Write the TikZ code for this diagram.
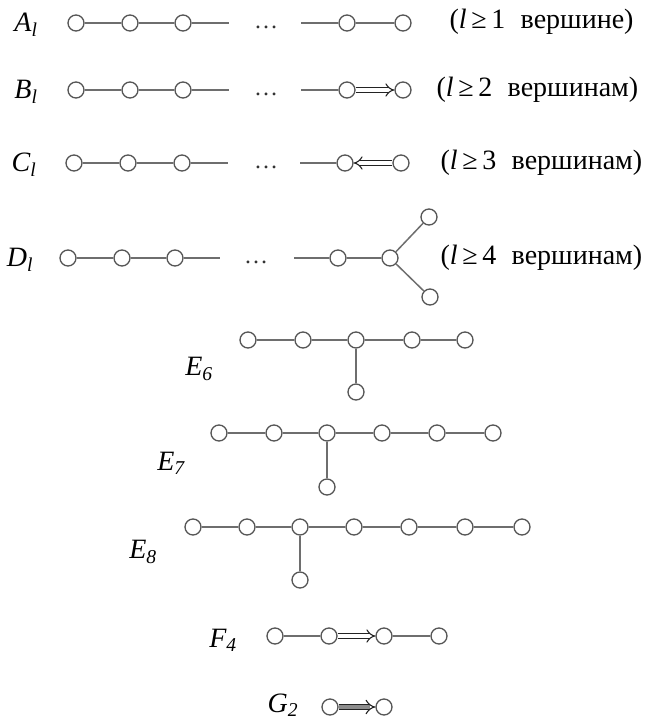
\documentclass[tikz,border=0pt]{standalone}
\usepackage{fontspec}
\setmainfont{Liberation Serif}
\usetikzlibrary{arrows.meta}
\definecolor{edgec}{RGB}{110,110,110}
\definecolor{ringc}{RGB}{85,85,85}
\definecolor{arrc}{RGB}{35,35,35}
\tikzset{
  v/.style={circle, draw=ringc, fill=white, line width=1.3pt, minimum size=16pt, inner sep=0pt},
  ed/.style={draw=edgec, line width=1.5pt},
  dbl/.style={draw=arrc, line width=1.1pt, double=white, double distance=3.5pt, -{Implies[scale=1.2]}},
  trip/.style={draw=arrc, line width=1.1pt, double=black!45, double distance=4pt, -{Implies[scale=1.2]}},
  lab/.style={font=\fontsize{28}{32}\selectfont\itshape},
  txt/.style={font=\fontsize{28}{32}\selectfont, anchor=west},
  dots/.style={font=\fontsize{24}{28}\selectfont, text=black!80},
}
\begin{document}
\begin{tikzpicture}[x=1pt,y=-1pt]
\useasboundingbox (0,0) rectangle (652,723);
% ---------- A_l ----------
\node[lab] (LA) at (26,25) {A\textsubscript{l}};
\node[v] (a1) at (76,23) {};
\node[v] (a2) at (130,23) {};
\node[v] (a3) at (183,23) {};
\coordinate (a3e) at (229,23);
\node[dots] (da) at (266,27) {…};
\coordinate (a4s) at (301,23);
\node[v] (a4) at (347,23) {};
\node[v] (a5) at (403,23) {};
\draw[ed] (a1) -- (a2);
\draw[ed] (a2) -- (a3);
\draw[ed] (a3) -- (a3e);
\draw[ed] (a4s) -- (a4);
\draw[ed] (a4) -- (a5);
\node[txt] (TA) at (446,22) {(\textit{l}\,≥\,1\hspace{0.3em} вершине)};
% ---------- B_l ----------
\node[lab] (LB) at (26,92) {B\textsubscript{l}};
\node[v] (b1) at (76,90) {};
\node[v] (b2) at (130,90) {};
\node[v] (b3) at (183,90) {};
\coordinate (b3e) at (229,90);
\node[dots] (db) at (266,94) {…};
\coordinate (b4s) at (301,90);
\node[v] (b4) at (347,90) {};
\node[v] (b5) at (403,90) {};
\draw[ed] (b1) -- (b2);
\draw[ed] (b2) -- (b3);
\draw[ed] (b3) -- (b3e);
\draw[ed] (b4s) -- (b4);
\draw[dbl] (b4) -- (b5);
\node[txt] (TB) at (433,90) {(\textit{l}\,≥\,2\hspace{0.3em} вершинам)};
% ---------- C_l ----------
\node[lab] (LC) at (24,165) {C\textsubscript{l}};
\node[v] (c1) at (74,163) {};
\node[v] (c2) at (128,163) {};
\node[v] (c3) at (182,163) {};
\coordinate (c3e) at (228,163);
\node[dots] (dc) at (266,167) {…};
\coordinate (c4s) at (300,163);
\node[v] (c4) at (345,163) {};
\node[v] (c5) at (401,163) {};
\draw[ed] (c1) -- (c2);
\draw[ed] (c2) -- (c3);
\draw[ed] (c3) -- (c3e);
\draw[ed] (c4s) -- (c4);
\draw[dbl] (c5) -- (c4);
\node[txt] (TC) at (437,163) {(\textit{l}\,≥\,3\hspace{0.3em} вершинам)};
% ---------- D_l ----------
\node[lab] (LD) at (20,260) {D\textsubscript{l}};
\node[v] (d1) at (68,258) {};
\node[v] (d2) at (122,258) {};
\node[v] (d3) at (175,258) {};
\coordinate (d3e) at (220,258);
\node[dots] (dd) at (256,262) {…};
\coordinate (d4s) at (294,258);
\node[v] (d4) at (338,258) {};
\node[v] (d5) at (390,258) {};
\node[v] (d6) at (429,217) {};
\node[v] (d7) at (430,297) {};
\draw[ed] (d1) -- (d2);
\draw[ed] (d2) -- (d3);
\draw[ed] (d3) -- (d3e);
\draw[ed] (d4s) -- (d4);
\draw[ed] (d4) -- (d5);
\draw[ed] (d5) -- (d6);
\draw[ed] (d5) -- (d7);
\node[txt] (TD) at (437,258) {(\textit{l}\,≥\,4\hspace{0.3em} вершинам)};
% ---------- E_6 ----------
\node[lab] (LE6) at (199,369) {E\textsubscript{6}};
\node[v] (e61) at (248,340) {};
\node[v] (e62) at (303,340) {};
\node[v] (e63) at (356,340) {};
\node[v] (e64) at (412,340) {};
\node[v] (e65) at (465,340) {};
\node[v] (e66) at (356,392) {};
\draw[ed] (e61) -- (e62);
\draw[ed] (e62) -- (e63);
\draw[ed] (e63) -- (e64);
\draw[ed] (e64) -- (e65);
\draw[ed] (e63) -- (e66);
% ---------- E_7 ----------
\node[lab] (LE7) at (171,463) {E\textsubscript{7}};
\node[v] (e71) at (219,433) {};
\node[v] (e72) at (274,433) {};
\node[v] (e73) at (327,433) {};
\node[v] (e74) at (382,433) {};
\node[v] (e75) at (437,433) {};
\node[v] (e76) at (493,433) {};
\node[v] (e77) at (327,487) {};
\draw[ed] (e71) -- (e72);
\draw[ed] (e72) -- (e73);
\draw[ed] (e73) -- (e74);
\draw[ed] (e74) -- (e75);
\draw[ed] (e75) -- (e76);
\draw[ed] (e73) -- (e77);
% ---------- E_8 ----------
\node[lab] (LE8) at (143,552) {E\textsubscript{8}};
\node[v] (e81) at (193,527) {};
\node[v] (e82) at (247,527) {};
\node[v] (e83) at (300,527) {};
\node[v] (e84) at (354,527) {};
\node[v] (e85) at (409,527) {};
\node[v] (e86) at (465,527) {};
\node[v] (e87) at (522,527) {};
\node[v] (e88) at (300,580) {};
\draw[ed] (e81) -- (e82);
\draw[ed] (e82) -- (e83);
\draw[ed] (e83) -- (e84);
\draw[ed] (e84) -- (e85);
\draw[ed] (e85) -- (e86);
\draw[ed] (e86) -- (e87);
\draw[ed] (e83) -- (e88);
% ---------- F_4 ----------
\node[lab] (LF4) at (223,640) {F\textsubscript{4}};
\node[v] (f1) at (275,636) {};
\node[v] (f2) at (329,636) {};
\node[v] (f3) at (384,636) {};
\node[v] (f4) at (439,636) {};
\draw[ed] (f1) -- (f2);
\draw[dbl] (f2) -- (f3);
\draw[ed] (f3) -- (f4);
% ---------- G_2 ----------
\node[lab] (LG2) at (283,705) {G\textsubscript{2}};
\node[v] (g1) at (330,707) {};
\node[v] (g2) at (384,707) {};
\draw[trip] (g1) -- (g2);
\end{tikzpicture}
\end{document}
